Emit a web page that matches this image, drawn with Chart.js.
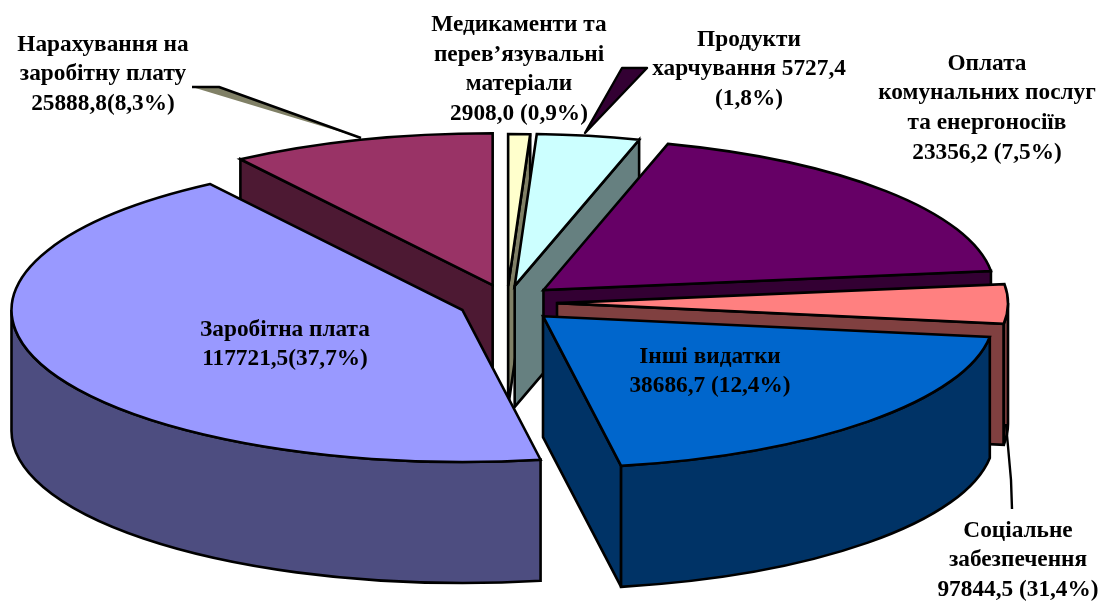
<!DOCTYPE html>
<html lang="uk">
<head>
<meta charset="utf-8">
<title>Видатки</title>
<script src="https://cdn.jsdelivr.net/npm/chart.js@4/dist/chart.umd.min.js"></script>
<style>
html,body{margin:0;padding:0;background:#fff;}
#wrap{width:1100px;height:601px;position:relative;}
</style>
</head>
<body>
<div id="wrap"><canvas id="c" width="1100" height="601"></canvas></div>
<script>
// Slices clockwise from 12 o'clock, in the order they are drawn in the picture.
const categories = ["Медикаменти та перев’язувальні матеріали","Продукти харчування","Оплата комунальних послуг та енергоносіїв","Соціальне забезпечення","Інші видатки","Заробітна плата","Нарахування на заробітну плату"];
// Values printed in the labels.
const printedValues = [2908.0, 5727.4, 23356.2, 97844.5, 38686.7, 117721.5, 25888.8];
const printedShares = [0.9, 1.8, 7.5, 31.4, 12.4, 37.7, 8.3];
// Share of the circle each slice occupies as drawn.
const drawnShares = [0.78, 3.67, 18.56, 4.17, 20.06, 43.33, 9.45];
const topColors = ["#FFFFCC","#CCFFFF","#660066","#FF8080","#0066CC","#9999FF","#993366"];
const wallColors = ["#808066","#668080","#330033","#804040","#003366","#4D4D80","#4D1933"];
const explode = [46, 47, 48, 50, 50, 48, 49];
const perspectiveDrop = [0, 0, -1, 1.5, 3, 2.5, -0.5];
// Text of the labels, line by line.
const labelLines = [
  ["Медикаменти та","перев’язувальні","матеріали","2908,0 (0,9%)"],
  ["Продукти","харчування 5727,4","(1,8%)"],
  ["Оплата","комунальних послуг","та енергоносіїв","23356,2 (7,5%)"],
  ["Соціальне","забезпечення","97844,5 (31,4%)"],
  ["Інші видатки","38686,7 (12,4%)"],
  ["Заробітна плата","117721,5(37,7%)"],
  ["Нарахування на","заробітну плату","25888,8(8,3%)"]
];
const labelAnchors = [[519,25],[749,39.5],[987,63.5],[1018,530.5],[710,356.5],[285,329.5],[103,44.5]];
const lineStep = 29.7;
const paintOrder = [6,0,1,2,3,4,5];
const squash = 0.337, depth = 121, radius = 451;
const FONT = 'bold 23.3px "Liberation Serif","Times New Roman",serif';

const pie3d = {
  id:'pie3d',
  beforeDatasetsDraw(chart){
    const ctx = chart.ctx, meta = chart.getDatasetMeta(0);
    const area = chart.chartArea;
    const cy = (area.top + area.bottom)/2;
    ctx.save();
    ctx.lineWidth = 2.6; ctx.lineJoin = 'miter'; ctx.miterLimit = 4; ctx.strokeStyle = '#000';
    paintOrder.forEach(i=>{
      const el = meta.data[i];
      const s = el.startAngle, e = el.endAngle, r = el.outerRadius, mid = (s+e)/2;
      const off = explode[i];
      const ox = el.x + Math.cos(mid)*off;
      const oy = cy + (el.y - cy + Math.sin(mid)*off)*squash + perspectiveDrop[i];
      const ry = r*squash;
      const px = a => ox + Math.cos(a)*r;
      const py = a => oy + Math.sin(a)*ry;
      const wall = wallColors[i];
      const quad = a => {
        ctx.beginPath();
        ctx.moveTo(ox,oy); ctx.lineTo(px(a),py(a));
        ctx.lineTo(px(a),py(a)+depth); ctx.lineTo(ox,oy+depth); ctx.closePath();
        ctx.fillStyle = wall; ctx.fill(); ctx.stroke();
      };
      if (Math.cos(s) < -1e-6) quad(s);
      if (Math.cos(e) > 1e-6) quad(e);
      const a0 = Math.max(s,0), a1 = Math.min(e,Math.PI);
      if (a1 > a0){
        ctx.beginPath();
        ctx.ellipse(ox,oy,r,ry,0,a0,a1,false);
        ctx.ellipse(ox,oy+depth,r,ry,0,a1,a0,true);
        ctx.closePath();
        ctx.fillStyle = wall; ctx.fill(); ctx.stroke();
      }
      // top face: the library's own arc element, flattened and pulled out
      ctx.save();
      ctx.translate(0,perspectiveDrop[i]);
      ctx.translate(0,cy); ctx.scale(1,squash); ctx.translate(0,-cy);
      ctx.translate(Math.cos(mid)*off, Math.sin(mid)*off);
      el.draw(ctx, area);
      ctx.restore();
      ctx.beginPath();
      ctx.moveTo(ox,oy);
      ctx.ellipse(ox,oy,r,ry,0,s,e,false);
      ctx.closePath();
      ctx.stroke();
    });
    ctx.restore();
    return false;
  },
  afterDraw(chart){
    const ctx = chart.ctx;
    ctx.save();
    // leader lines
    ctx.strokeStyle='#000'; ctx.lineWidth=2.4; ctx.lineJoin='round';
    ctx.fillStyle='#808066';
    ctx.beginPath(); ctx.moveTo(192,87); ctx.lineTo(219,87); ctx.lineTo(361,138); ctx.closePath(); ctx.fill();
    ctx.beginPath(); ctx.moveTo(192,87); ctx.lineTo(219,87); ctx.lineTo(361,138); ctx.stroke();
    ctx.fillStyle='#330033';
    ctx.beginPath(); ctx.moveTo(622,68); ctx.lineTo(647,68); ctx.lineTo(585,133); ctx.closePath(); ctx.fill(); ctx.stroke();
    ctx.beginPath(); ctx.moveTo(1006,424); ctx.lineTo(1011,480); ctx.lineTo(1012,509); ctx.stroke();
    // labels
    ctx.fillStyle='#000'; ctx.font=FONT; ctx.textAlign='center'; ctx.textBaseline='middle';
    labelLines.forEach((lines,i)=>{
      lines.forEach((t,j)=>ctx.fillText(t,labelAnchors[i][0],labelAnchors[i][1]+j*lineStep));
    });
    ctx.restore();
  }
};

new Chart(document.getElementById('c'),{
  type:'pie',
  data:{labels:categories,datasets:[{
    data:drawnShares,
    backgroundColor:topColors,
    borderWidth:0,
    hoverOffset:0,
    radius:radius
  }]},
  options:{
    responsive:false,animation:false,
    layout:{padding:{left:0,right:86,top:2,bottom:0}},
    plugins:{legend:{display:false},tooltip:{enabled:false}},
    events:[]
  },
  plugins:[pie3d]
});
</script>
</body>
</html>
